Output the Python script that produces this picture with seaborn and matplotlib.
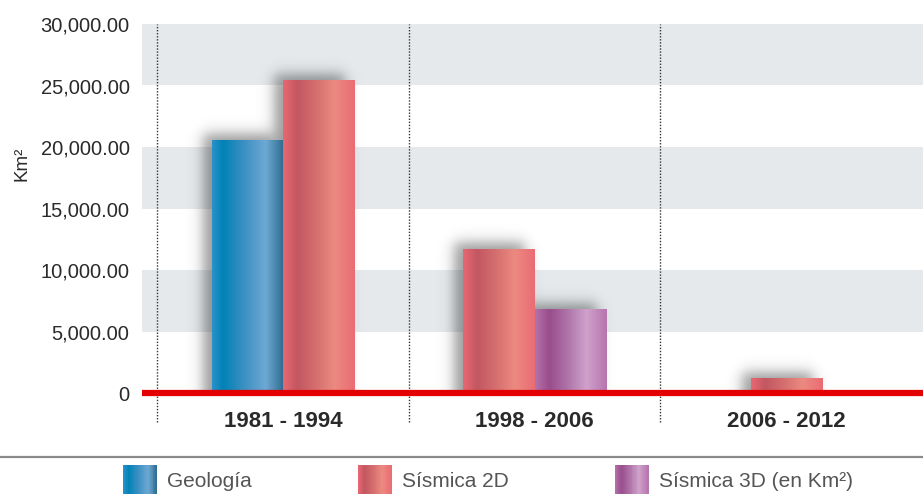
import numpy as np
import pandas as pd
import matplotlib
matplotlib.use("Agg")
import matplotlib.pyplot as plt
import seaborn as sns
from matplotlib.colors import LinearSegmentedColormap
from matplotlib.patches import Rectangle, Patch
from matplotlib.legend_handler import HandlerBase

# data
periods = ['1981 - 1994', '1998 - 2006', '2006 - 2012']
series = ['Geología', 'Sísmica 2D', 'Sísmica 3D (en Km²)']
geologia = [20550, None, None]
sismica_2d = [25400, 11700, 1150]
sismica_3d = [None, 6750, None]
yticks = [0, 5000, 10000, 15000, 20000, 25000, 30000]

cmaps = {
    'Geología': LinearSegmentedColormap.from_list('geo', [
        (0, '#2b92c9'), (0.15, '#0082b7'), (0.45, '#3d90c2'), (0.75, '#6ea9d4'), (1, '#2e6a8e')]),
    'Sísmica 2D': LinearSegmentedColormap.from_list('s2d', [
        (0, '#e86872'), (0.2, '#c25762'), (0.45, '#d46e6e'), (0.72, '#ec8a80'), (1, '#ea6c74')]),
    'Sísmica 3D (en Km²)': LinearSegmentedColormap.from_list('s3d', [
        (0, '#b472aa'), (0.2, '#994d8c'), (0.45, '#ae74a8'), (0.72, '#cfa2cb'), (1, '#b674ae')]),
}

BAR_W = 0.286  # width of one bar, in group units

# long table, bars of a group centred on the group position
rows = []
for i, p in enumerate(periods):
    vals = [(s, v) for s, v in zip(series, [geologia[i], sismica_2d[i], sismica_3d[i]]) if v is not None]
    n = len(vals)
    for k, (s, v) in enumerate(vals):
        rows.append({'periodo': p, 'serie': s, 'valor': v, 'xpos': i + (k - (n - 1) / 2) * BAR_W})
df = pd.DataFrame(rows)

sns.set_theme(style='white')
plt.rcParams['font.family'] = ['Liberation Sans', 'DejaVu Sans']

fig = plt.figure(figsize=(9.23, 4.94), dpi=100)
ax = fig.add_axes([142 / 923, 101 / 494, 781 / 923, 369 / 494])

sns.barplot(data=df, x='xpos', y='valor', hue='serie', hue_order=series,
            native_scale=True, dodge=False, width=0.99, errorbar=None,
            legend=False, ax=ax)
bars = list(ax.patches)

xlim = (-0.561, 2.544)
ylim = (0, 30000)
px_x = (xlim[1] - xlim[0]) / 781
px_y = (ylim[1] - ylim[0]) / 369

# gradient fill + soft shadow (shadow up and to the left)
grad = np.linspace(0, 1, 256).reshape(1, -1)
blur = 8.0
for bar, (_, r) in zip(sorted(bars, key=lambda b: b.get_x()), df.sort_values('xpos').iterrows()):
    x0, w, h = bar.get_x(), bar.get_width(), bar.get_height()
    bar.set_alpha(0)
    ax.imshow(grad, extent=(x0, x0 + w, 0, h), aspect='auto', cmap=cmaps[r['serie']],
              interpolation='bicubic', zorder=4)
    # shadow in pixel space
    wpx, hpx = w / px_x, h / px_y
    pad = 35
    gx = np.arange(-pad, wpx + pad)
    gy = np.arange(0, hpx + pad)
    sl, sr, st = -9, wpx - 10, hpx + 6
    fx = 0.5 * (1 + np.tanh((gx - sl) / blur)) * 0.5 * (1 - np.tanh((gx - sr) / blur))
    fy = 0.5 * (1 - np.tanh((gy - st) / blur))
    a = np.outer(fy[::-1], fx) * 0.45
    rgba = np.zeros(a.shape + (4,))
    rgba[..., :3] = 0.12
    rgba[..., 3] = a
    ax.imshow(rgba, extent=(x0 - pad * px_x, x0 + (wpx + pad) * px_x, 0, (hpx + pad) * px_y),
              aspect='auto', interpolation='bilinear', zorder=2)

# alternating grey bands
for lo in [5000, 15000, 25000]:
    ax.axhspan(lo, lo + 5000, color='#e5e9ec', lw=0, zorder=0)

# dotted separators
ax.vlines([-0.5, 0.5, 1.5], -2350, 30000, colors='#333333', linestyles=(0, (1, 1.2)),
          lw=1, clip_on=False, zorder=1)

ax.axhline(0, color='#e30000', lw=4.5, zorder=5, clip_on=False, solid_capstyle='butt')

ax.set_xlim(*xlim)
ax.set_ylim(*ylim)
ax.set_yticks(yticks)
ax.set_yticklabels(['0' if v == 0 else f'{v:,.2f}' for v in yticks])
ax.set_xticks(range(len(periods)))
ax.set_xticklabels(periods, fontweight='bold')
ax.tick_params(axis='y', length=0, pad=9, labelsize=14.5, labelcolor='#2a2a2a')
ax.tick_params(axis='x', length=0, pad=13, labelsize=16, labelcolor='#2a2a2a')
ax.set_xlabel('')
ax.set_ylabel('Km²', fontsize=13.5, color='#2a2a2a')
ax.yaxis.set_label_coords(-112 / 781, 0.62)
for s in ax.spines.values():
    s.set_visible(False)
ax.grid(False)
ax.set_facecolor('white')

# line above the legend
fig.add_artist(plt.Line2D([0, 1], [1 - 457 / 494] * 2, color='#8a8a8a', lw=1.6,
                          transform=fig.transFigure))


class GradientHandler(HandlerBase):
    def __init__(self, cmap):
        super().__init__()
        self.cmap = cmap

    def create_artists(self, legend, orig_handle, xdescent, ydescent, width, height,
                       fontsize, trans):
        n = 40
        out = []
        for j in range(n):
            out.append(Rectangle((-xdescent + width * j / n, -ydescent - height * 0.3),
                                 width / n + 0.3, height * 1.6,
                                 color=self.cmap((j + 0.5) / n), lw=0, transform=trans))
        return out


handles = [Patch(label=s) for s in series]
fig.legend(handles=handles, labels=series, loc='lower center', ncol=3,
           bbox_to_anchor=(488 / 923, -0.02), frameon=False, fontsize=15,
           labelcolor='#555555', handlelength=1.6, handleheight=1.0,
           handletextpad=0.5, columnspacing=5.1, borderpad=0.1,
           handler_map={h: GradientHandler(cmaps[s]) for h, s in zip(handles, series)})

fig.savefig('out.png', dpi=100)
